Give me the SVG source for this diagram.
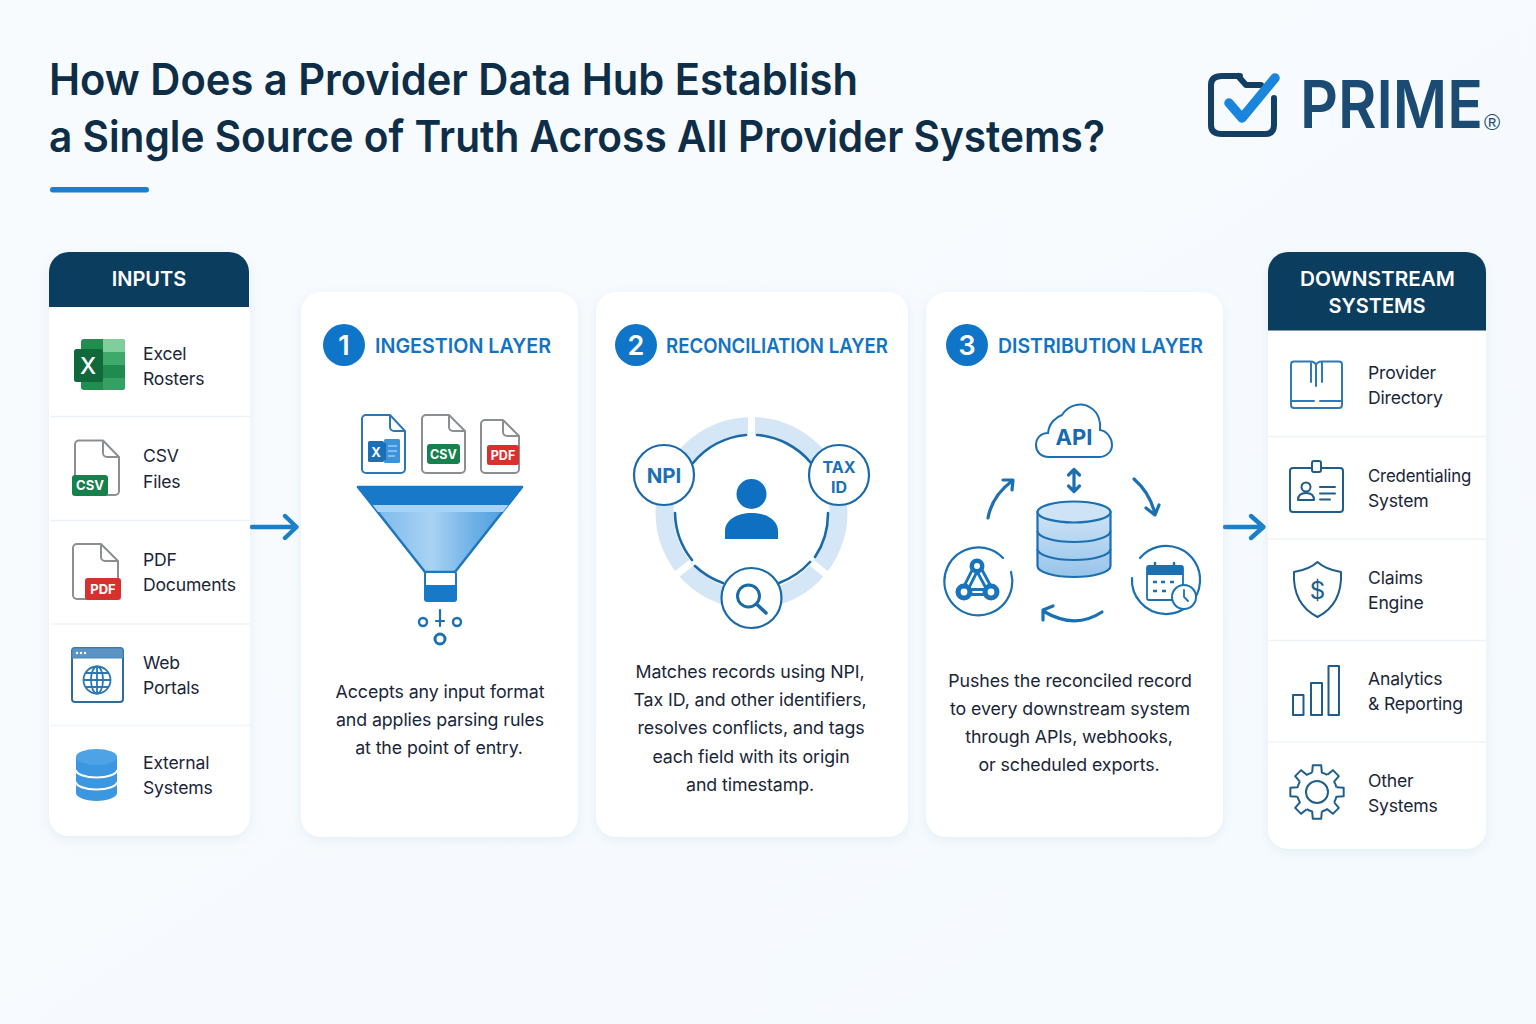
<svg xmlns="http://www.w3.org/2000/svg" width="1536" height="1024" viewBox="0 0 1536 1024">
<style>
text{font-family:"Inter","Noto Sans","Liberation Sans",sans-serif}
.title{font-size:44px;font-weight:600;fill:#0e2d46}
.head{font-size:20px;font-weight:600;fill:#fff;text-anchor:middle}
.lbl{font-size:17.6px;font-weight:400;fill:#1a2638;letter-spacing:-.2px}
.layer{font-size:20.5px;font-weight:600;fill:#1273c4}
.num{font-size:27px;font-weight:600;fill:#fff;text-anchor:middle}
.body{font-size:17.800px;font-weight:400;fill:#1a2638;text-anchor:middle;letter-spacing:-.1px}
.panel{fill:#fff;filter:url(#sh)}
.sep{stroke:#eef3f7;stroke-width:1.5}
.ln{fill:none;stroke:#1f5d8c;stroke-width:2;stroke-linecap:round;stroke-linejoin:round}
.bl{fill:none;stroke:#2f7ab5;stroke-width:2;stroke-linecap:round;stroke-linejoin:round}
.doc{fill:#fff;stroke:#8c8f92;stroke-width:2;stroke-linejoin:round}
.badge{font-size:13px;font-weight:700;fill:#fff;text-anchor:middle}
.conn{fill:none;stroke:#1a7fc9;stroke-width:4.4;stroke-linecap:round;stroke-linejoin:round}
.arc{fill:none;stroke:#1b70b2;stroke-width:3.2;stroke-linecap:round;stroke-linejoin:round}
.tag{font-weight:700;fill:#1a6fb5;text-anchor:middle}
</style>
<defs>
<filter id="sh" x="-15%" y="-10%" width="130%" height="120%"><feDropShadow dx="0" dy="3" stdDeviation="6" flood-color="#9fbfd8" flood-opacity=".22"/></filter>
<linearGradient id="bg" x1="0" y1="0" x2="1" y2="1"><stop offset="0" stop-color="#f8fbfe"/><stop offset="1" stop-color="#f5fafe"/></linearGradient>
<linearGradient id="fun" x1="0" y1="0" x2="1" y2="0"><stop offset="0" stop-color="#6db3ea"/><stop offset=".45" stop-color="#a9d2f3"/><stop offset=".7" stop-color="#6fb1e6"/><stop offset="1" stop-color="#3f93d8"/></linearGradient>
<linearGradient id="db" x1="0" y1="0" x2="0" y2="1"><stop offset="0" stop-color="#cfe3f6"/><stop offset="1" stop-color="#96c4ea"/></linearGradient>
<path id="tooth" d="M-4.84-19.4L-4.22-26.67L4.22-26.67L4.84-19.4A20 20 0 0 1 10.3-17.14" fill="none" stroke="#1f5d8c" stroke-width="2" stroke-linejoin="round"/>
</defs>
<rect width="1536" height="1024" fill="url(#bg)"/>

<g id="title">
<text class="title" x="49" y="95" textLength="809" lengthAdjust="spacingAndGlyphs">How Does a Provider Data Hub Establish</text>
<text class="title" x="49" y="152" textLength="1056" lengthAdjust="spacingAndGlyphs">a Single Source of Truth Across All Provider Systems?</text>
<rect x="50" y="187" width="99" height="5.5" rx="2.7" fill="#1a7fd0"/>
</g>

<g id="logo">
<path d="M1240 76L1222 76Q1211 76 1211 85V125Q1211 134 1222 134H1265Q1274 134 1274 125V98M1238 76L1246 85H1261" fill="none" stroke="#123f63" stroke-width="6" stroke-linecap="round" stroke-linejoin="round"/>
<path d="M1229 103L1242 118L1275 78" fill="none" stroke="#1a85dc" stroke-width="9.5" stroke-linecap="round" stroke-linejoin="round"/>
<text transform="translate(1300 128) scale(1 1.12)" font-size="59" font-weight="600" fill="#1b4a72">PRIME</text>
<text x="1492" y="129.500" font-size="22" fill="#1b4a72" text-anchor="middle" style="font-family:'Liberation Sans',sans-serif">®</text>
</g>

<g id="inputs">
<rect class="panel" x="49" y="252" width="201" height="584" rx="20"/>
<path d="M49 307V272a20 20 0 0 1 20-20H229a20 20 0 0 1 20 20V307Z" fill="#0b3d5f"/>
<text class="head" x="149" y="286">INPUTS</text>
<path class="sep" d="M50 416.500H250M50 520.500H250M50 624H250M50 725.500H250"/>
</g>
<g id="input-excel">
<rect x="81" y="339" width="44" height="51" rx="3" fill="#1f8f50"/>
<path d="M103 339H122a3 3 0 0 1 3 3V352H103Z" fill="#7fcf9d"/><rect x="103" y="352" width="22" height="13" fill="#3fa96c"/><rect x="103" y="365" width="22" height="13" fill="#1f8b4f"/><path d="M103 378H125V387a3 3 0 0 1-3 3H103Z" fill="#35a165"/>
<rect x="74" y="349" width="29" height="33" rx="2.500" fill="#11693b"/>
<text x="88" y="374" font-size="23" font-weight="500" fill="#fff" text-anchor="middle">X</text>
<text class="lbl" x="143" y="360">Excel</text><text class="lbl" x="143" y="385">Rosters</text>
</g>
<g id="input-csv">
<path class="doc" d="M79 440.500H103L119 457V491a4 4 0 0 1-4 4H79a4 4 0 0 1-4-4V444.500a4 4 0 0 1 4-4ZM103 440.500V453a4 4 0 0 0 4 4H119"/>
<rect x="72" y="475" width="36" height="21" rx="3" fill="#16814c"/><text class="badge" x="90" y="490">CSV</text>
<text class="lbl" x="143" y="462">CSV</text><text class="lbl" x="143" y="488">Files</text>
</g>
<g id="input-pdf">
<path class="doc" d="M77 544H101L118 561V595a4 4 0 0 1-4 4H77a4 4 0 0 1-4-4V548a4 4 0 0 1 4-4ZM101 544V557a4 4 0 0 0 4 4H118"/>
<rect x="85" y="578" width="36" height="22" rx="3" fill="#d9302e"/><text class="badge" x="103" y="594">PDF</text>
<text class="lbl" x="143" y="566">PDF</text><text class="lbl" x="143" y="591">Documents</text>
</g>
<g id="input-web">
<rect x="72" y="648" width="51" height="54" rx="3" fill="#fff" stroke="#2f6d9c" stroke-width="2"/>
<path d="M72 658V651a3 3 0 0 1 3-3H120a3 3 0 0 1 3 3V658Z" fill="#5a93c4" stroke="#4b86b8"/>
<circle cx="77" cy="653" r="1.200" fill="#fff"/><circle cx="81" cy="653" r="1.200" fill="#fff"/><circle cx="85" cy="653" r="1.200" fill="#fff"/>
<g fill="none" stroke="#2a78b4" stroke-width="1.800"><circle cx="97" cy="680" r="13.500"/><ellipse cx="97" cy="680" rx="6" ry="13.500"/><path d="M83.500 680H110.500M85.500 673H108.500M85.500 687H108.500M97 666.500V693.500"/></g>
<text class="lbl" x="143" y="669">Web</text><text class="lbl" x="143" y="694">Portals</text>
</g>
<g id="input-external">
<path d="M76 757V793c0 4 9 8 20.500 8s20.500-4 20.500-8V757Z" fill="#3b97e0"/>
<ellipse cx="96.500" cy="757" rx="20.500" ry="8" fill="#4ea3e6"/>
<path d="M76 770c0 4 9 7.500 20.500 7.500S117 774 117 770M76 782c0 4 9 7.500 20.500 7.500S117 786 117 782" fill="none" stroke="#fff" stroke-width="2"/>
<text class="lbl" x="143" y="769">External</text><text class="lbl" x="143" y="794">Systems</text>
</g>

<g id="connectors">
<path class="conn" d="M252 527H296M285 516L296.500 527L285 538"/>
<path class="conn" d="M1225 527H1263M1251 516L1263.500 527L1251 538"/>
</g>

<g id="ingestion-layer">
<rect class="panel" x="301" y="292" width="277" height="545" rx="20"/>
<circle cx="344" cy="345" r="21" fill="#0f75c9"/><text class="num" x="344" y="355">1</text>
<text class="layer" x="375" y="353" textLength="176" lengthAdjust="spacingAndGlyphs">INGESTION LAYER</text>
<path d="M367 415H390L405 431V469a4 4 0 0 1-4 4H366a4 4 0 0 1-4-4V419a4 4 0 0 1 4-4ZM390 415V427a4 4 0 0 0 4 4H405" fill="#fff" stroke="#2c78b5" stroke-width="2" stroke-linejoin="round"/>
<rect x="384" y="439" width="16" height="24" rx="1.500" fill="#3b93dc"/><rect x="374" y="443" width="12" height="17" fill="#1b6db3"/><rect x="368" y="441" width="16" height="21" rx="1.500" fill="#1a6fb8"/>
<text x="376" y="457" font-size="13" font-weight="700" fill="#fff" text-anchor="middle">X</text>
<path d="M388 446H397M388 451H397M388 456H395" stroke="#cfe5f8" stroke-width="1.200"/>
<path class="doc" d="M426 415H449L465 431V469a4 4 0 0 1-4 4H426a4 4 0 0 1-4-4V419a4 4 0 0 1 4-4ZM449 415V427a4 4 0 0 0 4 4H465"/>
<rect x="427" y="444" width="33" height="20" rx="3" fill="#16814c"/><text class="badge" x="443.500" y="459" style="font-size:12.500px">CSV</text>
<path class="doc" d="M485 420H503L519 436V469a4 4 0 0 1-4 4H485a4 4 0 0 1-4-4V424a4 4 0 0 1 4-4ZM503 420V432a4 4 0 0 0 4 4H519"/>
<rect x="487" y="445" width="32" height="20" rx="2.500" fill="#d9302e"/><text class="badge" x="503" y="460" style="font-size:12.500px">PDF</text>
<path d="M358 487H522L455 572H425Z" fill="url(#fun)" stroke="#1f78bd" stroke-width="2.500" stroke-linejoin="round"/>
<path d="M372 504H509L503 512H378Z" fill="#a8d3f6"/>
<path d="M358 487H522L509 504H372Z" fill="#1979c9" stroke="#1979c9" stroke-width="2" stroke-linejoin="round"/>
<rect x="425" y="572" width="31" height="29" rx="2" fill="#fff" stroke="#1f78bd" stroke-width="2"/>
<path d="M425 585H456V599a2 2 0 0 1-2 2H427a2 2 0 0 1-2-2Z" fill="#1979c9"/>
<path d="M440 610V626M436 621H444" stroke="#1a70b3" stroke-width="2.200" stroke-linecap="round" fill="none"/>
<g fill="none" stroke="#1a70b3"><circle cx="423" cy="622" r="4" stroke-width="2.400"/><circle cx="457" cy="622" r="4" stroke-width="2.400"/><circle cx="440" cy="639" r="5" stroke-width="3"/></g>
<text class="body" x="440" y="698">Accepts any input format</text>
<text class="body" x="440" y="726">and applies parsing rules</text>
<text class="body" x="439" y="754">at the point of entry.</text>
</g>

<g id="reconciliation-layer">
<rect class="panel" x="596" y="292" width="312" height="545" rx="20"/>
<circle cx="636" cy="345" r="21" fill="#0f75c9"/><text class="num" x="636" y="355">2</text>
<text class="layer" x="666" y="353" textLength="222" lengthAdjust="spacingAndGlyphs">RECONCILIATION LAYER</text>
<circle cx="751.500" cy="513" r="87" fill="none" stroke="#d5e7f7" stroke-width="18"/>
<path d="M751.500 410V440M691 563L676 575M812 563L827 575" stroke="#fff" stroke-width="7" fill="none"/>
<path d="M746 435A78 78 0 0 0 693 463M757 435A78 78 0 0 1 811 463M675 513A78 78 0 0 0 692 560M695 566A78 78 0 0 0 723 583M779 583A78 78 0 0 0 810 562M815 557A78 78 0 0 0 828 513" fill="none" stroke="#1b6aa8" stroke-width="2.600" stroke-linecap="round"/>
<circle cx="751.500" cy="494" r="15" fill="#0f6fc0"/>
<path d="M725 539V531C725 520 737 513 751.500 513S778 520 778 531V539Z" fill="#0f6fc0"/>
<g fill="#fff" stroke="#1b6aa8" stroke-width="2.200"><circle cx="664" cy="475" r="30"/><circle cx="839" cy="475" r="30"/><circle cx="751.500" cy="598" r="30"/></g>
<text class="tag" x="664" y="483" font-size="20.500">NPI</text>
<text class="tag" x="839" y="473" font-size="16">TAX</text>
<text class="tag" x="839" y="492.500" font-size="16">ID</text>
<circle cx="748.500" cy="596" r="11" fill="none" stroke="#1b6aa8" stroke-width="3"/>
<path d="M756.500 604L766 613" stroke="#1b6aa8" stroke-width="3.500" stroke-linecap="round"/>
<text class="body" x="750" y="678">Matches records using NPI,</text>
<text class="body" x="750" y="706">Tax ID, and other identifiers,</text>
<text class="body" x="751" y="734">resolves conflicts, and tags</text>
<text class="body" x="751" y="763">each field with its origin</text>
<text class="body" x="750" y="791">and timestamp.</text>
</g>

<g id="distribution-layer">
<rect class="panel" x="926" y="292" width="297" height="545" rx="20"/>
<circle cx="967" cy="345" r="21" fill="#0f75c9"/><text class="num" x="967" y="355">3</text>
<text class="layer" x="998" y="353" textLength="205" lengthAdjust="spacingAndGlyphs">DISTRIBUTION LAYER</text>
<path d="M1049 457C1040 457 1036 451 1036 445C1036 438 1041 433 1048 433C1049 423 1056 417 1062 415C1068 405 1082 401 1091 408C1099 413 1101 423 1100 430C1107 431 1112 438 1112 445C1112 452 1106 457 1099 457Z" fill="#fff" stroke="#1b70b2" stroke-width="2"/>
<text class="tag" x="1074" y="445" font-size="22" style="fill:#176ab0">API</text>
<path d="M1074 470V491M1068.500 475L1074 469.500L1079.500 475M1068.500 486L1074 491.500L1079.500 486" fill="none" stroke="#1b70b2" stroke-width="3.200" stroke-linecap="round" stroke-linejoin="round"/>
<path d="M1037.500 512V566C1037.500 572 1054 577 1074 577S1110.500 572 1110.500 566V512Z" fill="url(#db)" stroke="#1b70b2" stroke-width="2.200"/>
<ellipse cx="1074" cy="512" rx="36.500" ry="10.500" fill="#cfe3f6" stroke="#1b70b2" stroke-width="2.200"/>
<path d="M1037.500 531C1037.500 537 1054 542 1074 542S1110.500 537 1110.500 531M1037.500 549C1037.500 555 1054 560 1074 560S1110.500 555 1110.500 549" fill="none" stroke="#1b70b2" stroke-width="2.200"/>
<path class="arc" d="M988 518Q992 496 1012 481M1003 480H1013L1012 490"/>
<path class="arc" d="M1134 479Q1150 493 1155 514M1146 508L1155 515L1159 505"/>
<path class="arc" d="M1102 612Q1075 630 1043 611M1043 620L1043 610L1053 606"/>
<path d="M1003 558A34 34 0 1 0 1011 572" fill="none" stroke="#1b70b2" stroke-width="2.200" stroke-linecap="round"/>
<path d="M964 592L977 566L991 592Z" fill="none" stroke="#1a74bb" stroke-width="8" stroke-linejoin="round"/>
<path d="M964 592L977 566L991 592Z" fill="none" stroke="#fff" stroke-width="2.200" stroke-linejoin="round"/>
<g fill="#1a74bb"><circle cx="977" cy="566" r="7.500"/><circle cx="964" cy="592" r="8.500"/><circle cx="991" cy="592" r="8.500"/></g>
<g fill="#fff"><circle cx="977" cy="566" r="3"/><circle cx="964" cy="592" r="3.400"/><circle cx="991" cy="592" r="3.400"/></g>
<path d="M1140 558A34 34 0 0 1 1200 582A34 34 0 0 1 1132 578" fill="none" stroke="#1b70b2" stroke-width="2.200" stroke-linecap="round"/>
<rect x="1147" y="566" width="36" height="34" rx="2" fill="#fff" stroke="#1b70b2" stroke-width="1.800"/>
<rect x="1147" y="566" width="36" height="9" fill="#1b70b2"/>
<path d="M1155 563V569M1174 563V569" stroke="#1b70b2" stroke-width="2.500" stroke-linecap="round"/>
<path d="M1153 582H1157M1161 582H1165M1170 582H1174M1153 591H1157M1162 591H1166" stroke="#1b70b2" stroke-width="2.400"/>
<circle cx="1184" cy="597" r="12" fill="#fff" stroke="#1b70b2" stroke-width="2"/>
<path d="M1184 590V597L1188 601" fill="none" stroke="#1b70b2" stroke-width="1.800" stroke-linecap="round"/>
<text class="body" x="1070" y="687">Pushes the reconciled record</text>
<text class="body" x="1070" y="715">to every downstream system</text>
<text class="body" x="1069" y="743">through APIs, webhooks,</text>
<text class="body" x="1069" y="771">or scheduled exports.</text>
</g>

<g id="downstream">
<rect class="panel" x="1268" y="252" width="218" height="597" rx="20"/>
<path d="M1268 330.500V272a20 20 0 0 1 20-20H1466a20 20 0 0 1 20 20V330.500Z" fill="#0b3d5f"/>
<text class="head" x="1377.500" y="286" textLength="155" lengthAdjust="spacingAndGlyphs">DOWNSTREAM</text><text class="head" x="1377" y="313">SYSTEMS</text>
<path class="sep" d="M1268 436.500H1486M1268 539H1486M1268 640.500H1486M1268 742H1486"/>
</g>
<g id="out-directory">
<path class="bl" d="M1294 361.500H1310C1314 361.500 1316 363 1316 366C1316 363 1319 361.500 1322 361.500H1339a3 3 0 0 1 3 3V405a3 3 0 0 1-3 3H1294a3 3 0 0 1-3-3V364.500a3 3 0 0 1 3-3ZM1291 401H1314M1320 401H1342M1311 363V382M1316 366V386M1322 363V382"/>
<text class="lbl" x="1368" y="379">Provider</text><text class="lbl" x="1368" y="404">Directory</text>
</g>
<g id="out-credentialing">
<rect x="1290" y="468" width="53" height="44" rx="3" fill="#fff" stroke="#1f5d8c" stroke-width="2"/>
<rect x="1312" y="461" width="9" height="11" rx="2" fill="#fff" stroke="#1f5d8c" stroke-width="2"/>
<circle class="ln" cx="1306" cy="487" r="4.500"/><path class="ln" d="M1298 500C1298 494 1302 493 1306 493S1314 494 1314 500Z"/>
<path class="ln" d="M1320 487H1335M1320 493.500H1335M1320 499.500H1330"/>
<text class="lbl" x="1368" y="482" textLength="103" lengthAdjust="spacingAndGlyphs">Credentialing</text><text class="lbl" x="1368" y="507">System</text>
</g>
<g id="out-claims">
<path class="ln" d="M1317.500 562C1324 568 1332 570.500 1341 572C1342 592 1335 608 1317.500 617C1300 608 1293 592 1294 572C1303 570.500 1311 568 1317.500 562Z"/>
<text x="1317.500" y="599" font-size="24" font-weight="400" fill="#1f5d8c" text-anchor="middle">$</text>
<text class="lbl" x="1368" y="584">Claims</text><text class="lbl" x="1368" y="609">Engine</text>
</g>
<g id="out-analytics">
<rect class="ln" x="1293" y="695" width="10.500" height="20"/><rect class="ln" x="1311" y="683" width="11" height="32"/><rect class="ln" x="1328.500" y="666" width="10.500" height="49"/>
<text class="lbl" x="1368" y="685">Analytics</text><text class="lbl" x="1368" y="710">&amp; Reporting</text>
</g>
<g id="out-other">
<g transform="translate(1317 792)">
<use href="#tooth"/><use href="#tooth" transform="rotate(45)"/><use href="#tooth" transform="rotate(90)"/><use href="#tooth" transform="rotate(135)"/><use href="#tooth" transform="rotate(180)"/><use href="#tooth" transform="rotate(225)"/><use href="#tooth" transform="rotate(270)"/><use href="#tooth" transform="rotate(315)"/>
<circle r="11" fill="none" stroke="#1f5d8c" stroke-width="2"/>
</g>
<text class="lbl" x="1368" y="787">Other</text><text class="lbl" x="1368" y="812">Systems</text>
</g>
</svg>
